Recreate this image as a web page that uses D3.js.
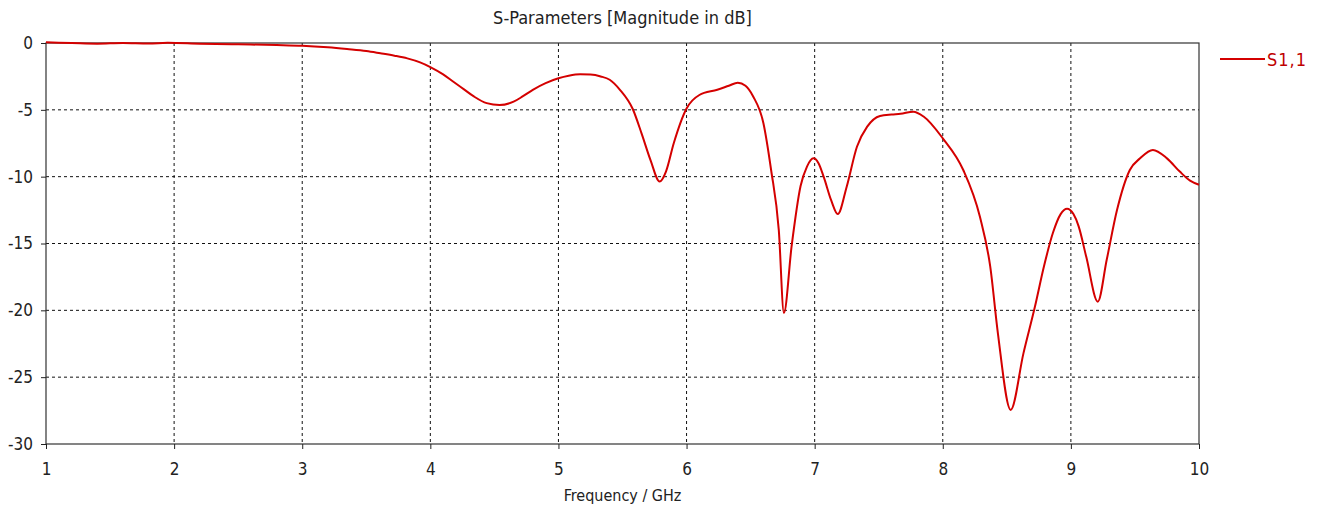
<!DOCTYPE html>
<html>
<head>
<meta charset="utf-8">
<script src="https://cdn.jsdelivr.net/npm/d3@7"></script>
<style>
  body { margin: 0; background: #fff; }
  svg text { font-family: "DejaVu Sans Condensed", "DejaVu Sans", sans-serif; }
</style>
</head>
<body>
<svg id="chart" width="1323" height="511"></svg>
<script>
const freqGHz = [1.0, 1.2, 1.4, 1.6, 1.8, 1.95, 2.2, 2.5, 2.8, 3.0, 3.2, 3.35, 3.5, 3.61, 3.72, 3.82, 3.92, 4.0,
  4.1, 4.18, 4.26, 4.34, 4.44, 4.54, 4.65, 4.72, 4.8, 4.9, 5.0, 5.08, 5.17, 5.25, 5.33, 5.4, 5.48, 5.58, 5.65,
  5.72, 5.79, 5.84, 5.9, 6.0, 6.1, 6.24, 6.33, 6.4, 6.46, 6.52, 6.6, 6.66, 6.72, 6.76, 6.82, 6.89, 6.94, 6.99,
  7.03, 7.07, 7.13, 7.18, 7.25, 7.33, 7.41, 7.51, 7.6, 7.67, 7.77, 7.85, 8.0, 8.16, 8.29, 8.37, 8.43, 8.53,
  8.63, 8.72, 8.79, 8.86, 8.92, 8.97, 9.02, 9.06, 9.12, 9.21, 9.28, 9.36, 9.46, 9.54, 9.64, 9.75, 9.85, 9.93, 10.0];
const s11dB = [0.05, 0.0, -0.05, 0.0, -0.04, 0.02, -0.05, -0.1, -0.15, -0.2, -0.32, -0.45, -0.6, -0.77, -0.95, -1.15, -1.45, -1.8,
  -2.35, -2.9, -3.45, -4.0, -4.5, -4.64, -4.39, -4.0, -3.5, -3.0, -2.64, -2.45, -2.34, -2.36, -2.5, -2.75, -3.5, -4.94, -6.8,
  -8.8, -10.37, -9.6, -7.5, -4.9, -3.89, -3.5, -3.2, -2.97, -3.2, -4.0, -6.0, -9.5, -14.0, -20.2, -15.2, -10.7, -9.25, -8.63,
  -9.0, -10.0, -11.8, -12.8, -10.75, -7.76, -6.26, -5.46, -5.35, -5.3, -5.14, -5.5, -7.13, -9.5, -13.0, -16.7, -21.7, -27.45,
  -23.2, -19.7, -16.7, -14.2, -12.8, -12.4, -12.8, -13.7, -16.0, -19.35, -16.2, -12.5, -9.5, -8.63, -8.0, -8.63, -9.62, -10.3, -10.6];
const xTicks = [1, 2, 3, 4, 5, 6, 7, 8, 9, 10];
const yTicks = [0, -5, -10, -15, -20, -25, -30];

const svg = d3.select("#chart");
const margin = {top: 43, right: 124, bottom: 67, left: 46};
const width = +svg.attr("width") - margin.left - margin.right;
const height = +svg.attr("height") - margin.top - margin.bottom;

const x = d3.scaleLinear().domain([1, 10]).range([0, width]);
const y = d3.scaleLinear().domain([-30, 0]).range([height, 0]);

const g = svg.append("g").attr("transform", `translate(${margin.left},${margin.top})`);

// dashed grid
g.selectAll(".vgrid")
  .data(xTicks.slice(1, -1))
  .join("line")
  .attr("x1", d => x(d)).attr("x2", d => x(d))
  .attr("y1", 0).attr("y2", height)
  .attr("stroke", "#111").attr("stroke-dasharray", "3,3");

g.selectAll(".hgrid")
  .data(yTicks.slice(1, -1))
  .join("line")
  .attr("x1", 0).attr("x2", width)
  .attr("y1", d => y(d)).attr("y2", d => y(d))
  .attr("stroke", "#111").attr("stroke-dasharray", "3,3");

// frame
g.append("rect")
  .attr("width", width).attr("height", height)
  .attr("fill", "none").attr("stroke", "#333").attr("stroke-width", 1.2);

const xAxis = g.append("g")
  .attr("transform", `translate(0,${height})`)
  .call(d3.axisBottom(x).tickValues(xTicks).tickSize(5).tickPadding(14).tickFormat(d => String(d)));
const yAxis = g.append("g")
  .call(d3.axisLeft(y).tickValues(yTicks).tickSize(5).tickPadding(8).tickFormat(d => String(d)));

[xAxis, yAxis].forEach(a => {
  a.select(".domain").remove();
  a.selectAll(".tick line").attr("stroke", "#222");
  a.selectAll(".tick text")
    .style("font-size", "17px")
    .attr("fill", "#222");
});

const line = d3.line()
  .x((d, i) => x(freqGHz[i]))
  .y(d => y(d))
  .curve(d3.curveMonotoneX);

g.append("path")
  .datum(s11dB)
  .attr("fill", "none")
  .attr("stroke", "#d40000")
  .attr("stroke-width", 2)
  .attr("d", line);

// title and axis label
svg.append("text")
  .attr("x", margin.left + width / 2)
  .attr("y", 24)
  .attr("text-anchor", "middle")
  .style("font-size", "18px")
  .attr("fill", "#222")
  .text("S-Parameters [Magnitude in dB]");

svg.append("text")
  .attr("x", margin.left + width / 2)
  .attr("y", 501)
  .attr("text-anchor", "middle")
  .style("font-size", "16px")
  .attr("fill", "#222")
  .text("Frequency / GHz");

// legend
const legend = svg.append("g").attr("transform", `translate(1220,59)`);
legend.append("line")
  .attr("x1", 0).attr("x2", 45)
  .attr("stroke", "#d40000").attr("stroke-width", 2);
legend.append("text")
  .attr("x", 47).attr("y", 7)
  .style("font-size", "18px")
  .style("letter-spacing", "1px")
  .attr("fill", "#c00000")
  .text("S1,1");
</script>
</body>
</html>
